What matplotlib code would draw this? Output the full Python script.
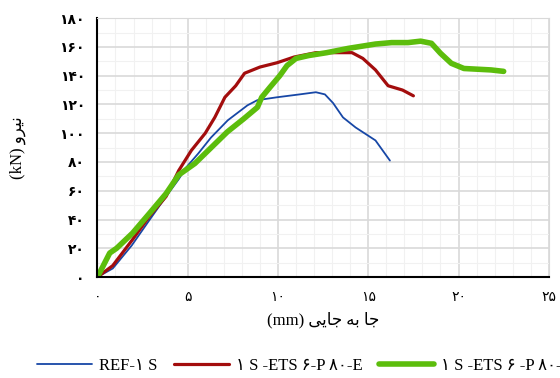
import matplotlib.pyplot as plt
from matplotlib.ticker import MultipleLocator

# خانواده فونت: سریف برای لاتین، DejaVu برای ارقام و حروف فارسی
plt.rcParams['font.family'] = ['Liberation Serif', 'DejaVu Sans']

# داده ها (جابجایی mm ، نیرو kN)
ref_x = [0, 0.85, 1.9, 2.9, 3.8, 4.5, 4.88, 5.59, 6.29, 7.22, 8.31, 8.86, 9.95, 11.2, 12.1,
         12.6, 13.05, 13.6, 14.3, 15.4, 16.2]
ref_y = [0, 6, 22, 40, 56, 68, 75.7, 86, 97, 109, 119.4, 123, 125, 127, 128.5,
         127, 121, 111, 104, 95, 81]

e_x = [0, 0.85, 1.94, 2.86, 3.8, 4.5, 5.2, 5.97, 6.5, 7.06, 7.66, 8.15, 9.0, 9.95, 10.9,
       12.1, 13.2, 14.1, 14.7, 15.4, 16.1, 16.9, 17.5]
e_y = [0, 8, 26, 42, 56, 74, 88, 100, 111, 125, 133, 141.7, 146, 149, 153,
       156, 156, 156, 152, 144, 133, 130, 126]

c_x = [0, 0.68, 1.06, 1.94, 2.86, 3.8, 4.5, 5.4, 6.3, 7.2, 8.1, 8.86, 9.1, 9.56, 10.1,
       10.5, 11.0, 11.7, 12.7, 13.9, 15.4, 16.3, 17.2, 17.9, 18.5, 19.0, 19.6, 20.3, 21.8, 22.5]
c_y = [0, 16.7, 20, 30.5, 44, 58, 71, 79, 90, 101, 110, 118, 125, 132, 140,
       147, 152, 154, 156, 159, 162, 163, 163, 164, 162.5, 155.6, 148.6, 145, 144, 143]

labels = ['REF-۱ S', '۱ S -ETS ۶-P ۸۰-E', '۱ S -ETS ۶ -P ۸۰-C']
x_ticks = [0, 5, 10, 15, 20, 25]
y_ticks = [0, 20, 40, 60, 80, 100, 120, 140, 160, 180]

fa_digits = str.maketrans('0123456789', '۰۱۲۳۴۵۶۷۸۹')

fig = plt.figure(figsize=(5.6, 3.78), dpi=100)
ax = fig.add_axes([0.174, 0.267, 0.806, 0.685])

ax.plot(ref_x, ref_y, color='#1747a6', lw=1.3, label=labels[0], solid_capstyle='round')
ax.plot(e_x, e_y, color='#a30d0d', lw=2.3, label=labels[1], solid_capstyle='round')
ax.plot(c_x, c_y, color='#5cbd0c', lw=4.0, label=labels[2], solid_capstyle='round')

ax.set_xlim(0, 25)
ax.set_ylim(0, 180)
ax.set_xticks(x_ticks)
ax.set_yticks(y_ticks)
ax.set_xticklabels([str(t).translate(fa_digits) for t in x_ticks], family=['DejaVu Sans'], fontsize=10)
ax.set_yticklabels([str(t).translate(fa_digits) for t in y_ticks], family=['DejaVu Sans'], fontsize=10,
                   fontweight='bold')
ax.xaxis.set_minor_locator(MultipleLocator(1))
ax.yaxis.set_minor_locator(MultipleLocator(10))
ax.tick_params(which='both', length=0)
ax.tick_params(axis='y', pad=9)
ax.tick_params(axis='x', pad=9)

ax.grid(True, which='major', color='#d9d9d9', lw=1.2)
ax.grid(True, which='minor', color='#f1f1f1', lw=0.8)
ax.set_axisbelow(True)

for s in ['top', 'right']:
    ax.spines[s].set_color('#d9d9d9')
for s in ['left', 'bottom']:
    ax.spines[s].set_color('black')
    ax.spines[s].set_linewidth(1.5)

# متن فارسی با شکل های نمایشی (matplotlib شکل دهی عربی ندارد)
xlabel = '(mm) \uFEF0\uFEF3\uFE8E\uFE9F \uFEEA\uFE91 \uFE8E\uFE9F'
ylabel = '(kN) \uFEED\uFEAE\uFEF4\uFEE7'
ax.set_xlabel(xlabel, fontsize=12, labelpad=6)
ax.set_ylabel(ylabel, fontsize=12, labelpad=24)

fig.legend(loc='center left', bbox_to_anchor=(0.04, 0.032), ncol=3, frameon=False,
           fontsize=12, handlelength=3.3, columnspacing=1.0, handletextpad=0.4)

plt.savefig('out.png', dpi=100)
